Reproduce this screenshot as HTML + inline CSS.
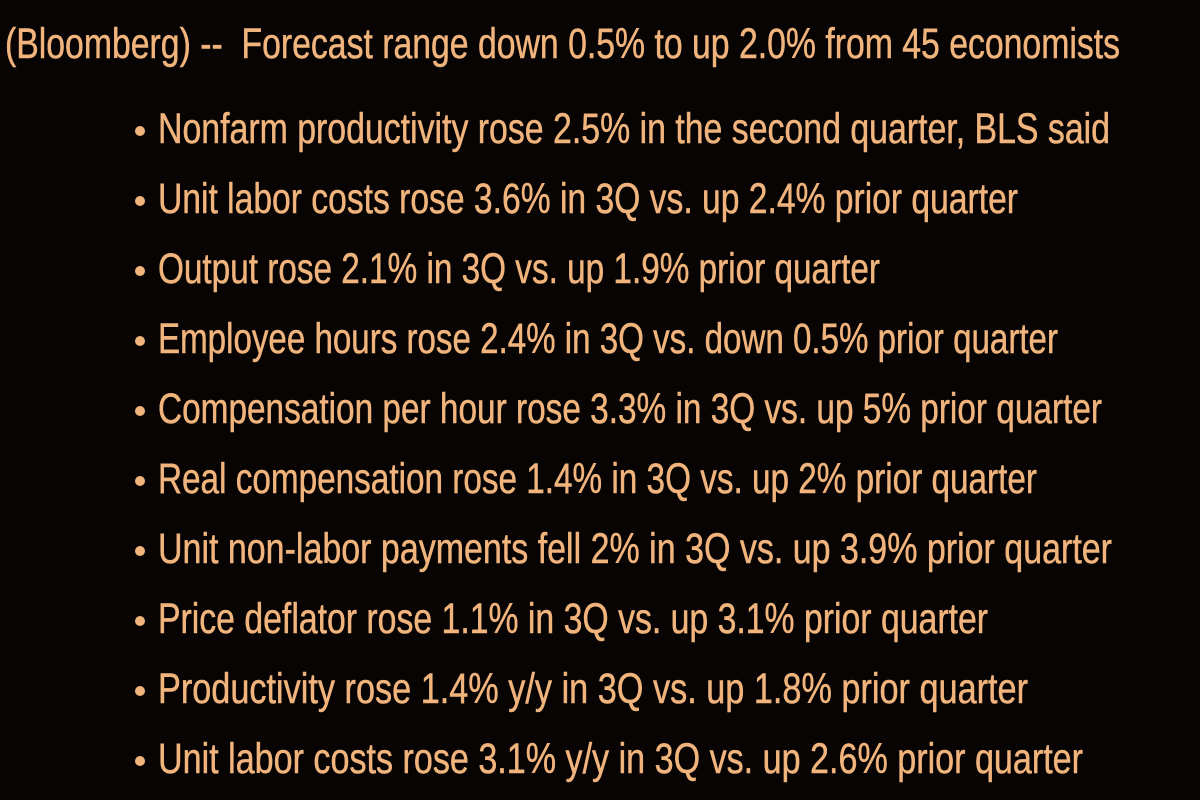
<!DOCTYPE html>
<html><head><style>html,body{margin:0;background:#080404;}svg{display:block}</style></head>
<body>
<svg width="1200" height="800" xmlns="http://www.w3.org/2000/svg">
<rect width="1200" height="800" fill="#080404"/>
<g fill="#f0b47c" stroke="#f0b47c" stroke-width="0.5" font-family="'Liberation Sans Narrow','Liberation Sans',sans-serif" font-size="43">
<text x="5" y="58" textLength="1115" lengthAdjust="spacingAndGlyphs">(Bloomberg) --&#160; Forecast range down 0.5% to up 2.0% from 45 economists</text>
<text x="158" y="143" textLength="952" lengthAdjust="spacingAndGlyphs">Nonfarm productivity rose 2.5% in the second quarter, BLS said</text>
<text x="158" y="213" textLength="860" lengthAdjust="spacingAndGlyphs">Unit labor costs rose 3.6% in 3Q vs. up 2.4% prior quarter</text>
<text x="158" y="283" textLength="722" lengthAdjust="spacingAndGlyphs">Output rose 2.1% in 3Q vs. up 1.9% prior quarter</text>
<text x="158" y="353" textLength="900" lengthAdjust="spacingAndGlyphs">Employee hours rose 2.4% in 3Q vs. down 0.5% prior quarter</text>
<text x="158" y="423" textLength="944" lengthAdjust="spacingAndGlyphs">Compensation per hour rose 3.3% in 3Q vs. up 5% prior quarter</text>
<text x="158" y="493" textLength="879" lengthAdjust="spacingAndGlyphs">Real compensation rose 1.4% in 3Q vs. up 2% prior quarter</text>
<text x="158" y="563" textLength="954" lengthAdjust="spacingAndGlyphs">Unit non-labor payments fell 2% in 3Q vs. up 3.9% prior quarter</text>
<text x="158" y="633" textLength="830" lengthAdjust="spacingAndGlyphs">Price deflator rose 1.1% in 3Q vs. up 3.1% prior quarter</text>
<text x="158" y="703" textLength="870" lengthAdjust="spacingAndGlyphs">Productivity rose 1.4% y/y in 3Q vs. up 1.8% prior quarter</text>
<text x="158" y="773" textLength="925" lengthAdjust="spacingAndGlyphs">Unit labor costs rose 3.1% y/y in 3Q vs. up 2.6% prior quarter</text>
</g>
<g fill="#f0b47c">
<circle cx="140" cy="131" r="5"/><circle cx="140" cy="201" r="5"/><circle cx="140" cy="271" r="5"/>
<circle cx="140" cy="341" r="5"/><circle cx="140" cy="411" r="5"/><circle cx="140" cy="481" r="5"/>
<circle cx="140" cy="551" r="5"/><circle cx="140" cy="621" r="5"/><circle cx="140" cy="691" r="5"/>
<circle cx="140" cy="761" r="5"/>
</g>
</svg>
</body></html>
